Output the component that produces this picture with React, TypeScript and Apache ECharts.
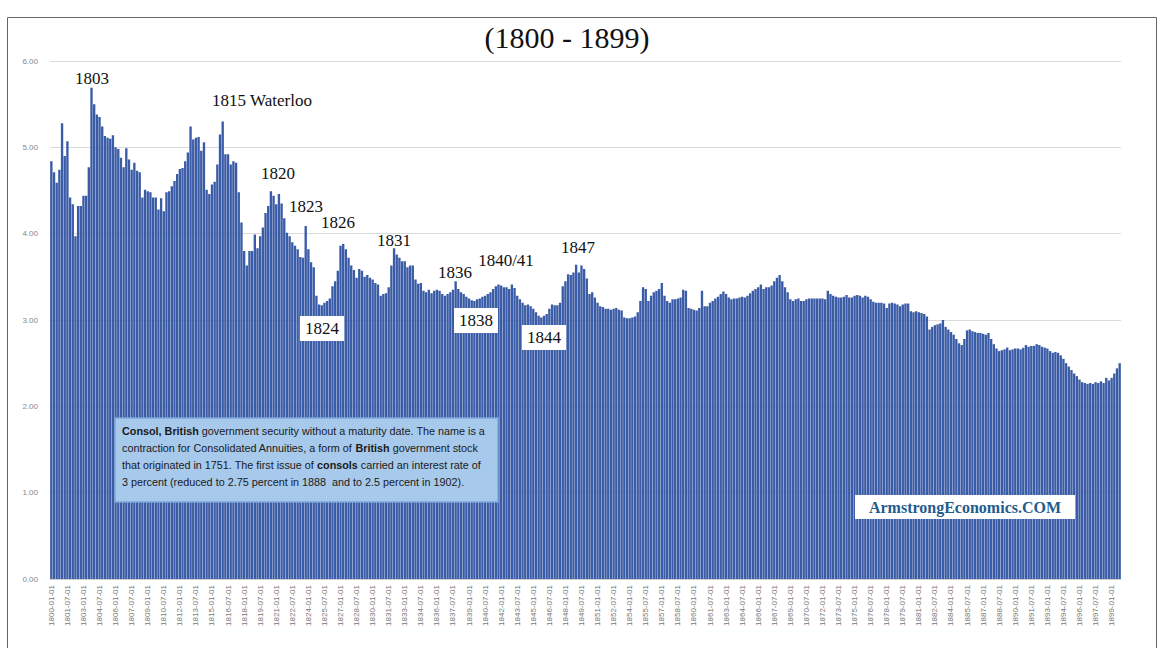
import React, { useEffect, useRef } from "react";
import * as echarts from "echarts";

// Quarterly consol yields (percent), one array per decade
const y1800s = [
  4.84, 4.71, 4.59, 4.74, 5.28, 4.90, 5.07, 4.42, 4.34, 3.97,
  4.32, 4.32, 4.44, 4.44, 4.77, 5.69, 5.50, 5.38, 5.35, 5.24,
  5.13, 5.11, 5.10, 5.14, 5.00, 4.98, 4.88, 4.77, 4.99, 4.86,
  4.74, 4.82, 4.73, 4.71, 4.42, 4.51, 4.49, 4.48, 4.42, 4.42,
];
const y1810s = [
  4.28, 4.41, 4.26, 4.48, 4.49, 4.55, 4.61, 4.69, 4.75, 4.76,
  4.84, 4.94, 5.24, 5.09, 5.11, 5.12, 4.96, 5.06, 4.51, 4.46,
  4.57, 4.60, 4.80, 5.15, 5.30, 4.92, 4.92, 4.80, 4.84, 4.82,
  4.48, 4.13, 3.80, 3.63, 3.80, 3.80, 3.99, 3.83, 3.97, 4.07,
];
const y1820s = [
  4.24, 4.32, 4.49, 4.44, 4.34, 4.46, 4.35, 4.18, 4.01, 3.97,
  3.90, 3.86, 3.82, 3.73, 3.72, 4.09, 3.82, 3.67, 3.61, 3.28,
  3.18, 3.17, 3.20, 3.22, 3.25, 3.39, 3.45, 3.57, 3.86, 3.88,
  3.82, 3.72, 3.63, 3.58, 3.49, 3.59, 3.57, 3.50, 3.52, 3.49,
];
const y1830s = [
  3.47, 3.43, 3.41, 3.28, 3.30, 3.31, 3.38, 3.63, 3.83, 3.76,
  3.72, 3.68, 3.68, 3.61, 3.63, 3.63, 3.47, 3.42, 3.43, 3.34,
  3.32, 3.35, 3.31, 3.34, 3.35, 3.34, 3.30, 3.28, 3.30, 3.32,
  3.35, 3.45, 3.36, 3.32, 3.30, 3.27, 3.25, 3.23, 3.22, 3.24,
];
const y1840s = [
  3.25, 3.27, 3.28, 3.30, 3.32, 3.36, 3.39, 3.41, 3.40, 3.38,
  3.38, 3.36, 3.41, 3.37, 3.28, 3.24, 3.20, 3.17, 3.18, 3.16,
  3.13, 3.09, 3.05, 3.03, 3.05, 3.07, 3.13, 3.18, 3.17, 3.17,
  3.20, 3.39, 3.45, 3.53, 3.52, 3.55, 3.64, 3.55, 3.63, 3.59,
];
const y1850s = [
  3.48, 3.30, 3.32, 3.26, 3.20, 3.16, 3.15, 3.13, 3.13, 3.12,
  3.13, 3.14, 3.12, 3.11, 3.03, 3.02, 3.02, 3.03, 3.04, 3.09,
  3.22, 3.38, 3.36, 3.22, 3.28, 3.32, 3.34, 3.36, 3.43, 3.28,
  3.22, 3.20, 3.24, 3.24, 3.25, 3.26, 3.35, 3.34, 3.14, 3.13,
];
const y1860s = [
  3.12, 3.11, 3.14, 3.34, 3.16, 3.16, 3.20, 3.22, 3.25, 3.27,
  3.30, 3.33, 3.30, 3.26, 3.24, 3.25, 3.25, 3.26, 3.27, 3.26,
  3.28, 3.31, 3.34, 3.36, 3.38, 3.41, 3.36, 3.38, 3.38, 3.40,
  3.45, 3.49, 3.52, 3.45, 3.38, 3.32, 3.24, 3.22, 3.24, 3.25,
];
const y1870s = [
  3.22, 3.22, 3.24, 3.25, 3.25, 3.25, 3.25, 3.25, 3.25, 3.24,
  3.34, 3.30, 3.28, 3.27, 3.26, 3.26, 3.27, 3.29, 3.26, 3.26,
  3.28, 3.29, 3.28, 3.26, 3.28, 3.27, 3.24, 3.21, 3.20, 3.20,
  3.20, 3.19, 3.14, 3.19, 3.20, 3.19, 3.18, 3.16, 3.18, 3.19,
];
const y1880s = [
  3.19, 3.10, 3.09, 3.10, 3.09, 3.08, 3.07, 3.04, 2.89, 2.92,
  2.94, 2.95, 2.96, 3.00, 2.92, 2.89, 2.86, 2.83, 2.78, 2.73,
  2.71, 2.78, 2.88, 2.89, 2.87, 2.86, 2.85, 2.85, 2.84, 2.83,
  2.85, 2.78, 2.72, 2.67, 2.64, 2.65, 2.66, 2.68, 2.65, 2.66,
];
const y1890s = [
  2.67, 2.67, 2.66, 2.68, 2.71, 2.69, 2.70, 2.70, 2.72, 2.71,
  2.69, 2.68, 2.67, 2.64, 2.62, 2.63, 2.62, 2.59, 2.55, 2.50,
  2.46, 2.42, 2.38, 2.35, 2.31, 2.28, 2.27, 2.26, 2.27, 2.26,
  2.28, 2.27, 2.29, 2.27, 2.33, 2.30, 2.33, 2.38, 2.44, 2.50,
];

const years: number[] = [];
for (let y = 1800; y <= 1899; y++) years.push(y);
const quarterStarts = ["01", "04", "07", "10"];
const categories: string[] = [];
years.forEach((y) => quarterStarts.forEach((m) => categories.push(`${y}-${m}-01`)));

const yieldValues = [
  ...y1800s, ...y1810s, ...y1820s, ...y1830s, ...y1840s,
  ...y1850s, ...y1860s, ...y1870s, ...y1880s, ...y1890s,
];

// Annotations: [text, centerX, centerY, boxed]
const notes: [string, number, number, boolean][] = [
  ["1803", 92, 78, false],
  ["1815 Waterloo", 262, 100, false],
  ["1820", 278, 173, false],
  ["1823", 306, 206, false],
  ["1826", 338, 222, false],
  ["1831", 394, 240, false],
  ["1836", 455, 272, false],
  ["1840/41", 506, 260, false],
  ["1847", 578, 247, false],
  ["1824", 322, 328, true],
  ["1838", 476, 320, true],
  ["1844", 544, 337, true],
];

const infoText =
  "{b|Consol, British} government security without a maturity date. The name is a\n" +
  "contraction for Consolidated Annuities, a form of {b|British} government stock\n" +
  "that originated in 1751. The first issue of {b|consols} carried an interest rate of\n" +
  "3 percent (reduced to 2.75 percent in 1888  and to 2.5 percent in 1902).";

export default function App() {
  const ref = useRef<HTMLDivElement>(null);
  useEffect(() => {
    if (!ref.current) return;
    const chart = echarts.init(ref.current, null, { renderer: "svg" });
    const serif = "'Liberation Serif', 'DejaVu Serif', serif";
    const sans = "'Liberation Sans', Arial, sans-serif";

    const noteEls: any[] = [];
    notes.forEach(([t, x, y, boxed]) => {
      if (boxed) {
        noteEls.push({
          type: "rect",
          shape: { x: x - 22, y: y - 12, width: 44, height: 25 },
          style: { fill: "#ffffff" },
          z: 10,
        });
      }
      noteEls.push({
        type: "text",
        x,
        y,
        style: {
          text: t,
          fill: "#111",
          font: `17px ${serif}`,
          align: "center",
          verticalAlign: "middle",
        },
        z: 11,
      });
    });

    chart.setOption({
      animation: false,
      backgroundColor: "#ffffff",
      grid: { left: 50, right: 41, top: 61, bottom: 69, containLabel: false },
      xAxis: {
        type: "category",
        data: categories,
        boundaryGap: true,
        axisLine: { show: true, lineStyle: { color: "#d0d0d0" } },
        axisTick: { show: false },
        axisLabel: {
          interval: 5,
          rotate: 90,
          fontSize: 8,
          color: "#777",
          margin: 6,
          fontFamily: sans,
        },
      },
      yAxis: {
        type: "value",
        min: 0,
        max: 6,
        interval: 1,
        axisLine: { show: false },
        axisTick: { show: false },
        axisLabel: {
          fontSize: 8,
          color: "#888",
          margin: 12,
          fontFamily: sans,
          formatter: (v: number) => v.toFixed(2),
        },
        splitLine: { show: true, lineStyle: { color: "#dadada", width: 1 } },
      },
      series: [
        {
          type: "bar",
          data: yieldValues,
          barCategoryGap: "12%",
          itemStyle: { color: "#3a5ba6" },
          silent: true,
        },
      ],
      graphic: [
        {
          type: "rect",
          shape: { x: 7.5, y: 17.5, width: 1149, height: 640 },
          style: { fill: "none", stroke: "#666", lineWidth: 1 },
          silent: true,
        },
        {
          type: "text",
          x: 567,
          y: 37,
          style: {
            text: "(1800 - 1899)",
            fill: "#111",
            font: `30px ${serif}`,
            align: "center",
            verticalAlign: "middle",
          },
        },
        ...noteEls,
        {
          type: "rect",
          shape: { x: 115, y: 418, width: 383, height: 84 },
          style: { fill: "#a7c9ec", stroke: "#7ea6d6", lineWidth: 1.5 },
          z: 10,
        },
        {
          type: "text",
          x: 122,
          y: 422,
          style: {
            text: infoText,
            fill: "#1a1a1a",
            font: `10.8px ${sans}`,
            lineHeight: 17,
            rich: {
              b: { fontWeight: "bold", fontSize: 10.8, fontFamily: sans, fill: "#1a1a1a", lineHeight: 17 },
            },
          },
          z: 11,
        },
        {
          type: "rect",
          shape: { x: 855, y: 495, width: 220, height: 24 },
          style: { fill: "#ffffff" },
          z: 10,
        },
        {
          type: "text",
          x: 965,
          y: 507,
          style: {
            text: "ArmstrongEconomics.COM",
            fill: "#1f5c8c",
            font: `bold 16px ${serif}`,
            align: "center",
            verticalAlign: "middle",
          },
          z: 11,
        },
      ],
    });
    return () => chart.dispose();
  }, []);
  return <div ref={ref} style={{ width: 1162, height: 648, position: "absolute", left: 0, top: 0 }} />;
}
